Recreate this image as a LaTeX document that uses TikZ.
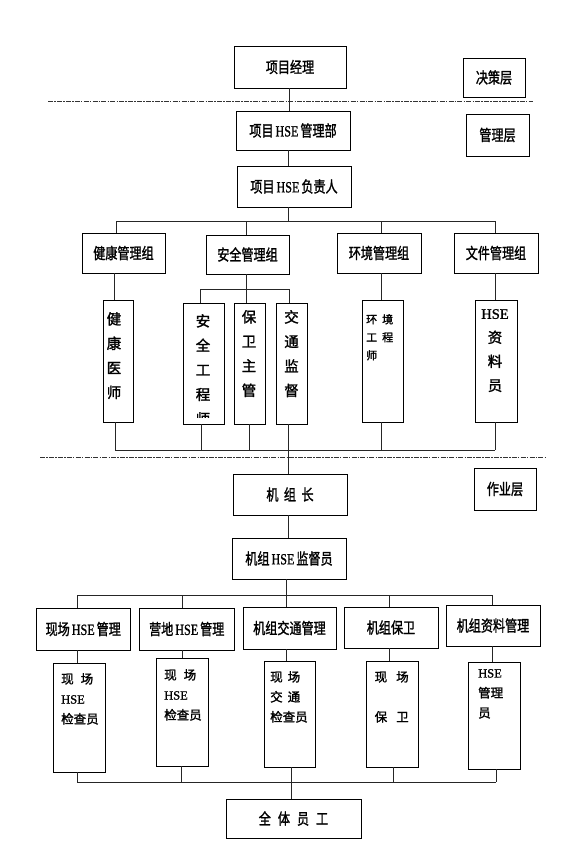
\documentclass[tikz,border=0pt]{standalone}
\usepackage{fontspec}
\setmainfont{Liberation Serif}
\newfontfamily\cjk[FakeBold=1.6]{Noto Sans CJK SC}
\newfontfamily\lat[FakeBold=1.2]{Liberation Serif}
\newcommand\cn[1]{\scalebox{0.78}[1]{#1}}
\newcommand\hse{{\lat HSE}}
\begin{document}
\begin{tikzpicture}[x=1pt,y=-1pt,
  box/.style={draw=black, line width=0.6pt, inner sep=0pt, font=\cjk\fontsize{15.5}{17}\selectfont},
  conn/.style={draw=black!85, line width=0.6pt},
  layer/.style={draw=black!80, line width=0.8pt, dash pattern=on 5pt off 1.2pt on 1.5pt off 1.2pt},
  vtext/.style={inner sep=0pt, align=center, anchor=north, font=\cjk\fontsize{14.5}{24.5}\selectfont},
  ltext/.style={inner sep=0pt, align=left, anchor=north west, font=\cjk\fontsize{12.5}{20}\selectfont}]
\useasboundingbox (0,0) rectangle (577,843);

% ---------- decision / management layer ----------
\node[box,minimum width=112pt,minimum height=42pt] (pm) at (290,67) {\cn{项目经理}};
\node[box,minimum width=62pt,minimum height=39pt] (jc) at (494,77.5) {\cn{决策层}};
\node[box,minimum width=114pt,minimum height=39pt] (dept) at (293,130.5) {\cn{项目\,\hse\,管理部}};
\node[box,minimum width=63pt,minimum height=42pt] (glc) at (497.5,135) {\cn{管理层}};
\node[box,minimum width=114pt,minimum height=41pt] (resp) at (294,186.5) {\cn{项目\,\hse\,负责人}};

\node[box,minimum width=83pt,minimum height=40pt] (g1) at (123.5,253) {\cn{健康管理组}};
\node[box,minimum width=83pt,minimum height=39pt] (g2) at (247.5,254.5) {\cn{安全管理组}};
\node[box,minimum width=84pt,minimum height=40pt] (g3) at (379,253) {\cn{环境管理组}};
\node[box,minimum width=84pt,minimum height=40pt] (g4) at (496,253) {\cn{文件管理组}};

\node[box,minimum width=30pt,minimum height=122pt] (v1) at (118,361) {};
\node[box,minimum width=41pt,minimum height=121pt] (v2) at (203.5,363.5) {};
\node[box,minimum width=31pt,minimum height=121pt] (v3) at (249.5,363.5) {};
\node[box,minimum width=31pt,minimum height=121pt] (v4) at (291.5,363.5) {};
\node[box,minimum width=41pt,minimum height=122pt] (v5) at (382.5,361) {};
\node[box,minimum width=42pt,minimum height=122pt] (v6) at (496,361) {};

\node[vtext] (t1) at (114,312) {健\\康\\医\\师};
\begin{scope}
  \clip (v2.north west) rectangle ([yshift=7pt]v2.south east);
  \node[vtext] (t2) at (203,314) {安\\全\\工\\程\\师};
\end{scope}
\node[vtext] (t3) at (249,310) {保\\卫\\主\\管};
\node[vtext] (t4) at (291.5,310) {交\\通\\监\\督};
\node[ltext,font=\cjk\fontsize{11}{18}\selectfont] (t5) at (366,314) {环\hspace{5pt}境\\工\hspace{5pt}程\\师};
\node[vtext,font=\cjk\fontsize{14.5}{24}\selectfont] (t6) at (495,309) {\hse\\资\\料\\员};

% ---------- operation layer ----------
\node[box,minimum width=114pt,minimum height=41pt] (jz) at (290,494.5) {\cn{机\hspace{7pt}组\hspace{7pt}长}};
\node[box,minimum width=62pt,minimum height=42pt] (zy) at (505,489) {\cn{作业层}};
\node[box,minimum width=114pt,minimum height=41pt] (sup) at (289,558.5) {\cn{机组\,\hse\,监督员}};

\node[box,minimum width=93.5pt,minimum height=42pt] (h1) at (83.25,629) {\cn{现场\,\hse\,管理}};
\node[box,minimum width=94.5pt,minimum height=42pt] (h2) at (186.75,629) {\cn{营地\,\hse\,管理}};
\node[box,minimum width=93pt,minimum height=42pt] (h3) at (289.5,628) {\cn{机组交通管理}};
\node[box,minimum width=94pt,minimum height=41pt] (h4) at (391,627.5) {\cn{机组保卫}};
\node[box,minimum width=94pt,minimum height=41pt] (h5) at (493,625.5) {\cn{机组资料管理}};

\node[box,minimum width=52pt,minimum height=109pt] (w1) at (79.4,717.5) {};
\node[box,minimum width=52pt,minimum height=108pt] (w2) at (182,712) {};
\node[box,minimum width=51.5pt,minimum height=106pt] (w3) at (289.75,714) {};
\node[box,minimum width=52pt,minimum height=106pt] (w4) at (392,714) {};
\node[box,minimum width=52pt,minimum height=107pt] (w5) at (494,715.5) {};

\node[ltext] (u1) at (61,673) {现\hspace{7pt}场\\\hse\\检查员};
\node[ltext] (u2) at (164,669) {现\hspace{7pt}场\\\hse\\检查员};
\node[ltext] (u3) at (270,671) {现\hspace{5pt}场\\交\hspace{5pt}通\\检查员};
\node[ltext] (u4) at (374.5,671) {现\hspace{9pt}场\\[20pt]保\hspace{9pt}卫};
\node[ltext] (u5) at (478,669) {\hse\\管理\\员};

\node[box,minimum width=135pt,minimum height=39pt] (all) at (293.5,818.5) {\cn{全\hspace{9pt}体\hspace{9pt}员\hspace{9pt}工}};

% ---------- layer separators ----------
\coordinate (d1a) at (48,101);  \coordinate (d1b) at (533,101);
\coordinate (d2a) at (40,457);  \coordinate (d2b) at (545,457);
\draw[layer] (d1a) -- (d1b);
\draw[layer] (d2a) -- (d2b);

% ---------- connectors (upper) ----------
\coordinate (s1) at (289,0);
\coordinate (s2) at (288,0);
\draw[conn] (pm.south -| s1) -- (dept.north -| s1);
\draw[conn] (dept.south -| s2) -- (resp.north -| s2);
\coordinate (k1) at (116,221); \coordinate (k2) at (246,221);
\coordinate (k3) at (381,221); \coordinate (k4) at (495,221);
\coordinate (km) at (288,221);
\draw[conn] (resp.south -| s2) -- (km);
\draw[conn] (k1) -- (k4);
\draw[conn] (k1) -- (g1.north -| k1);
\draw[conn] (k2) -- (g2.north -| k2);
\draw[conn] (k3) -- (g3.north -| k3);
\draw[conn] (k4) -- (g4.north -| k4);

\coordinate (m1) at (114,0);
\draw[conn] (g1.south -| m1) -- (v1.north -| m1);
\coordinate (m2) at (246,289); \coordinate (n1) at (200,289); \coordinate (n3) at (289,289);
\draw[conn] (g2.south -| m2) -- (m2);
\draw[conn] (n1) -- (n3);
\draw[conn] (n1) -- (v2.north -| n1);
\draw[conn] (m2) -- (v3.north -| m2);
\draw[conn] (n3) -- (v4.north -| n3);
\coordinate (m3) at (381,0); \coordinate (m4) at (495,0);
\draw[conn] (g3.south -| m3) -- (v5.north -| m3);
\draw[conn] (g4.south -| m4) -- (v6.north -| m4);

\coordinate (p1) at (115,450); \coordinate (p2) at (201,450);
\coordinate (p3) at (249,450); \coordinate (p4) at (288,450);
\coordinate (p5) at (381,450); \coordinate (p6) at (495,450);
\draw[conn] (p1) -- (p6);
\draw[conn] (v1.south -| p1) -- (p1);
\draw[conn] (v2.south -| p2) -- (p2);
\draw[conn] (v3.south -| p3) -- (p3);
\draw[conn] (v4.south -| p4) -- (jz.north -| p4);
\draw[conn] (v5.south -| p5) -- (p5);
\draw[conn] (v6.south -| p6) -- (p6);

% ---------- connectors (lower) ----------
\draw[conn] (jz.south -| s2) -- (sup.north -| s2);
\coordinate (q1) at (77.5,595); \coordinate (q2) at (182,595);
\coordinate (q3) at (286,595); \coordinate (q4) at (389,595);
\coordinate (q5) at (492,595);
\draw[conn] (sup.south -| q3) -- (q3);
\draw[conn] (q1) -- (q5);
\draw[conn] (q1) -- (h1.north -| q1);
\draw[conn] (q2) -- (h2.north -| q2);
\draw[conn] (q3) -- (h3.north -| q3);
\draw[conn] (q4) -- (h4.north -| q4);
\draw[conn] (q5) -- (h5.north -| q5);
\draw[conn] (h1.south -| q1) -- (w1.north -| q1);
\draw[conn] (h2.south -| q2) -- (w2.north -| q2);
\draw[conn] (h3.south -| q3) -- (w3.north -| q3);
\draw[conn] (h4.south -| q4) -- (w4.north -| q4);
\draw[conn] (h5.south -| q5) -- (w5.north -| q5);

\coordinate (r1) at (77,782); \coordinate (r2) at (181,782);
\coordinate (r3) at (291,782); \coordinate (r4) at (393.5,782);
\coordinate (r5) at (496,782);
\draw[conn] (r1) -- (r5);
\draw[conn] (w1.south -| r1) -- (r1);
\draw[conn] (w2.south -| r2) -- (r2);
\draw[conn] (w3.south -| r3) -- (all.north -| r3);
\draw[conn] (w4.south -| r4) -- (r4);
\draw[conn] (w5.south -| r5) -- (r5);
\end{tikzpicture}
\end{document}
